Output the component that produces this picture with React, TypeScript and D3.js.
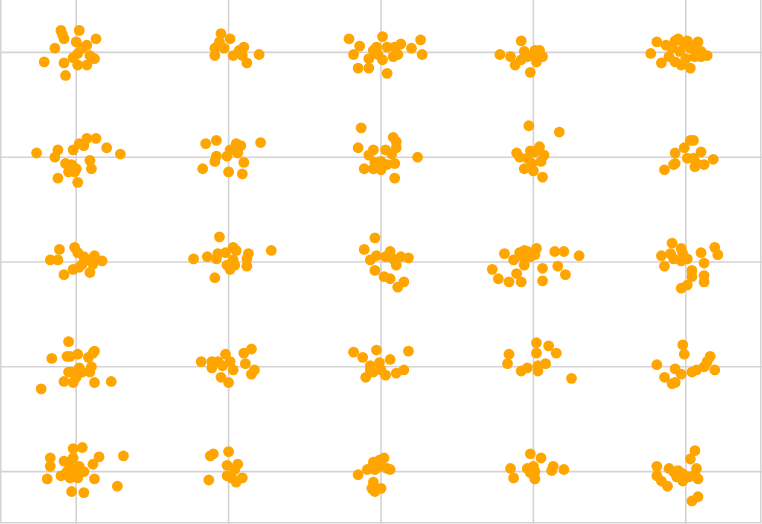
import React from "react";
import * as d3 from "d3";

const columns = [1, 2, 3, 4, 5];
const rows = [1, 2, 3, 4, 5];

// jitter (percent of cell spacing), cluster order: row-major, rows top→bottom, columns left→right
const jitterX: number[][] = [
  [-10,-9,-8,2,13,0,7,-14,4,1,9,12,-2,-21,-8,1,7,-7],
  [-5,1,-6,-9,-3,-9,10,7,3,9,20,12],
  [-21,-14,-18,-15,-8,-8,-5,-2,1,4,1,9,13,11,8,20,26,27,4,-3],
  [-8,-22,-15,-12,-6,-4,1,4,6,2,-2,0,-8],
  [-19,-23,-13,-7,-5,1,8,-9,-4,3,10,14,6,-16,-7,-3,3,0,-11,10,-1,5],

  [-26,-12,-14,-2,2,7,13,5,20,29,9,10,-7,-3,0,-5,-1,-12,1],
  [-15,-8,21,5,8,1,6,-1,-8,-9,10,-17,0,9],
  [-13,-15,-5,-8,-11,-5,8,10,3,10,7,9,0,24,9,0,-4,4],
  [-3,17,-11,-9,-2,4,1,7,5,-4,-6,0,6,-1],
  [3,5,-1,10,-7,1,5,-7,6,12,18,-14,-8,7],

  [-11,-17,-12,-1,1,5,12,17,8,4,11,-2,2,-8,9],
  [-6,-23,-14,-8,-7,-2,3,5,13,28,3,-1,1,12,12,-9,4],
  [-4,-11,-7,-3,-4,6,3,13,18,10,2,6,15,11,8],
  [-19,-27,-23,-16,-8,-13,-11,-9,-6,-4,-7,-2,2,1,-6,6,6,14,20,16,21,30],
  [-9,-16,-10,-3,-2,-8,-3,1,-14,10,19,21,12,4,4,12,12,1,-3],

  [-5,-16,-6,-4,1,8,12,11,10,2,-3,4,9,-8,-2,0,12,23,-23,-5],
  [-18,-11,-11,-7,-2,1,3,-5,0,10,15,11,17,15,-4],
  [-18,-12,-10,-7,-3,-5,-1,6,18,3,10,15,-7,0],
  [-16,-17,-8,-4,2,2,10,15,8,3,3,25],
  [-2,-1,-19,-14,-9,-7,-7,-3,4,7,12,14,16,19],

  [-2,4,-17,-17,-8,-2,-4,2,15,11,31,5,-10,-19,-4,1,12,27,-3,5,-6,-1],
  [-10,-12,0,-1,6,4,-1,2,9,5,-13],
  [-15,-9,-5,-1,2,4,6,-5,-4,-6,0,-2,0,-4],
  [-2,5,-15,-13,-4,0,1,1,-2,13,12,20],
  [6,3,-19,-11,-8,-5,-2,7,6,8,-19,-16,-12,-6,-2,2,4,8],
];

const jitterY: number[][] = [
  [-21,-17,-13,-21,-13,-10,-7,-4,-4,1,3,6,5,9,10,12,12,22],
  [-18,-13,-10,-4,-4,3,-5,-2,3,3,2,10],
  [-13,-6,2,15,15,6,-2,2,-15,-5,7,-5,-8,2,4,-4,-12,2,20,-5],
  [-11,2,4,12,-1,4,-2,-2,4,9,19,3,7],
  [-10,1,-7,-11,-13,-11,-10,-4,-1,-4,-1,3,4,10,9,12,15,6,4,4,-8,-6],

  [-4,-7,0,-7,-13,-18,-18,-11,-9,-3,3,11,6,7,11,14,14,20,24],
  [-13,-16,-14,-13,-11,-7,-4,-1,-1,4,5,11,14,16],
  [-28,-9,-7,-2,11,11,-19,-15,-7,-9,-3,6,4,0,20,12,5,7],
  [-30,-24,-4,0,-6,-10,-5,-2,4,1,11,13,19,6],
  [-16,-16,-9,-5,-4,1,1,6,9,7,2,12,7,6],

  [-12,-2,-2,-14,-9,-5,-6,-1,-2,2,2,7,5,12,10],
  [-24,-3,-5,-3,-8,-9,-14,-11,-8,-11,-2,3,7,-3,4,15,3],
  [-23,-12,-2,-6,8,-10,-5,-5,-4,3,14,16,19,24,-3],
  [-8,7,16,19,19,-2,11,-9,-11,-10,-5,-5,-13,-7,3,6,18,-10,-10,4,12,-6],
  [-18,-6,-8,-13,-8,-3,-1,-3,4,-9,-14,-7,1,8,14,13,19,22,25],

  [-24,-8,-10,-10,-12,-9,-15,-13,0,1,5,5,5,14,15,10,15,14,21,5],
  [-5,-5,1,-5,-12,-5,3,10,15,-13,-17,-3,3,7,-1],
  [-14,-9,10,-1,-16,5,-4,-7,-15,8,6,3,3,3],
  [-12,-3,4,1,-23,-13,-20,-13,-3,-1,4,11],
  [-21,-12,-2,10,16,15,2,7,5,3,0,-5,-10,3],

  [-22,-23,-13,-5,-10,-13,-5,-5,-14,-7,-15,0,4,7,6,6,7,14,19,20,0,-2],
  [-17,-15,-19,-6,-7,-2,4,6,6,10,8],
  [3,-2,-9,-11,-13,-3,-2,10,19,16,16,-4,-6,-2],
  [-17,-13,-3,6,-3,-5,0,7,1,-5,-1,-2],
  [-20,-12,-5,-3,0,-1,2,-3,3,7,4,9,14,5,9,5,28,24],
];

const W = 762;
const H = 524;

export default function App() {
  const x = d3.scaleLinear().domain([0.5, 5.5]).range([0, W]);
  const y = d3.scaleLinear().domain([0.5, 5.5]).range([0, H]);

  const points: { px: number; py: number }[] = [];
  rows.forEach((r, ri) => {
    columns.forEach((c, ci) => {
      const k = ri * columns.length + ci;
      const jx = jitterX[k];
      const jy = jitterY[k];
      jx.forEach((v, i) => {
        points.push({ px: x(c + v / 100), py: y(r + jy[i] / 100) });
      });
    });
  });

  const gridColor = "#d3d3d3";

  return (
    <svg
      width={W}
      height={H}
      style={{ position: "absolute", left: 0, top: 0, background: "#fff" }}
    >
      <rect x={0} y={0} width={W} height={H} fill="#fff" />
      {columns.map((c) => (
        <line key={"v" + c} x1={x(c)} x2={x(c)} y1={0} y2={H} stroke={gridColor} strokeWidth={1.6} />
      ))}
      {rows.map((r) => (
        <line key={"h" + r} x1={0} x2={W} y1={y(r)} y2={y(r)} stroke={gridColor} strokeWidth={1.6} />
      ))}
      <path
        d={`M0.75,0 V${H - 1.25} H${W - 1.25} V0`}
        fill="none"
        stroke={gridColor}
        strokeWidth={1.5}
      />
      {points.map((p, i) => (
        <circle key={i} cx={p.px} cy={p.py} r={5.4} fill="#FFA500" />
      ))}
    </svg>
  );
}
